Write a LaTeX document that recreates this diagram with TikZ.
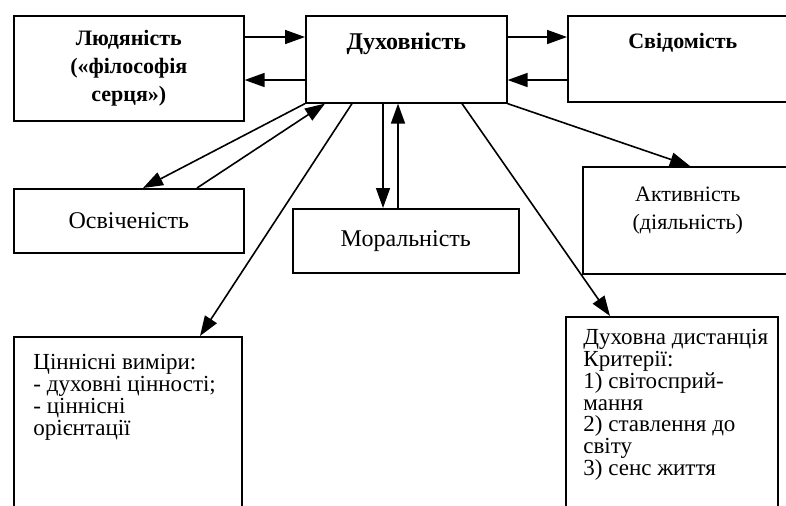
\documentclass[tikz,border=0pt]{standalone}
\usepackage{fontspec}
\setmainfont{Liberation Serif}
\usetikzlibrary{positioning, calc, arrows.meta}
\newcommand{\tightlines}{\lineskiplimit=-20pt\relax\lineskip=0pt\relax}

\begin{document}
\begin{tikzpicture}[x = .5pt, y = -.5pt,
		box/.style = {draw, line width = .8pt, anchor = north west, inner sep = 0pt, align = center, font = \fontsize{12}{13.5}\selectfont},
		arr/.style = {line width = .8pt, -{Triangle[length = 10pt, width = 7pt]}},
		txt/.style = {inner sep = 0pt, align = center, font = \rmfamily\fontsize{11}{14}\selectfont},
		lst/.style = {anchor = north west, inner sep = 0pt, align = left, font = \rmfamily\fontsize{11.5}{10.9}\selectfont\tightlines}]
			\useasboundingbox (0,0) rectangle (786,505);
			\node[box, minimum width = 115pt, minimum height = 52.5pt, font = \fontsize{11}{13.8}\selectfont\bfseries] (lud) at (13,15) {Людяність\\(«філософія\\серця»)};
			\node[box, minimum width = 100.5pt, minimum height = 43.5pt] (dukh) at (305,15) {};
			\node[box, minimum width = 115pt, minimum height = 43pt] (svid) at (567,15) {};
			\node[box, minimum width = 115pt, minimum height = 32pt] (osv) at (13,188) {Освіченість};
			\node[box, minimum width = 113pt, minimum height = 32pt] (moral) at (292,208) {Моральність};
			\node[box, minimum width = 105pt, minimum height = 53.5pt] (aktyv) at (582,166) {};
			\node[box, minimum width = 114pt, minimum height = 90pt] (tsin) at (13,336) {};
			\node[box, minimum width = 106pt, minimum height = 100pt] (dist) at (565,316) {};
			\node[txt, below = 8.5pt of dukh.north, font = \fontsize{12}{13.5}\selectfont\bfseries] (dukhtxt) {Духовність};
			\node[txt, below = 9pt of svid.north, font = \fontsize{11}{13.5}\selectfont\bfseries] (svidtxt) {Свідомість};
			\node[txt, below = 10.5pt of aktyv.north] (aktyvtxt) {Активність\\(діяльність)};
			\node[lst, below right = 9pt and 10pt of tsin.north west] (tsintxt) {Ціннісні виміри:\\- духовні цінності;\\- ціннісні\\орієнтації};
			\node[lst, below right = 6.5pt and 9pt of dist.north west] (disttxt) {Духовна дистанція\\Критерії:\\1) світосприй-\\мання\\2) ставлення до\\світу\\3) сенс життя};
			\draw[arr] ([yshift = -11pt]lud.north east) -- ([yshift = -11pt]dukh.north west);
			\draw[arr] ([yshift = -32.5pt]dukh.north west) -- ([yshift = -32.5pt]lud.north east);
			\draw[arr] ([yshift = -11pt]dukh.north east) -- ([yshift = -11pt]svid.north west);
			\draw[arr] ([yshift = -32.5pt]svid.north west) -- ([yshift = -32.5pt]dukh.north east);
			\draw[arr] (dukh.south west) -- ([xshift = 65pt]osv.north west);
			\draw[arr] ([xshift = 92pt]osv.north west) -- ([xshift = 10pt]dukh.south west);
			\draw[arr] ([xshift = 23.5pt]dukh.south west) -- ([xshift = 93.5pt]tsin.north west);
			\draw[arr] ([xshift = 39pt]dukh.south west) -- ([xshift = 45.5pt]moral.north west);
			\draw[arr] ([xshift = 53pt]moral.north west) -- ([xshift = 46.5pt]dukh.south west);
			\draw[arr] ([xshift = 78.5pt]dukh.south west) -- ([xshift = 22.5pt]dist.north west);
			\draw[arr] (dukh.south east) -- ([xshift = 54pt]aktyv.north west);
		\end{tikzpicture}
\end{document}
